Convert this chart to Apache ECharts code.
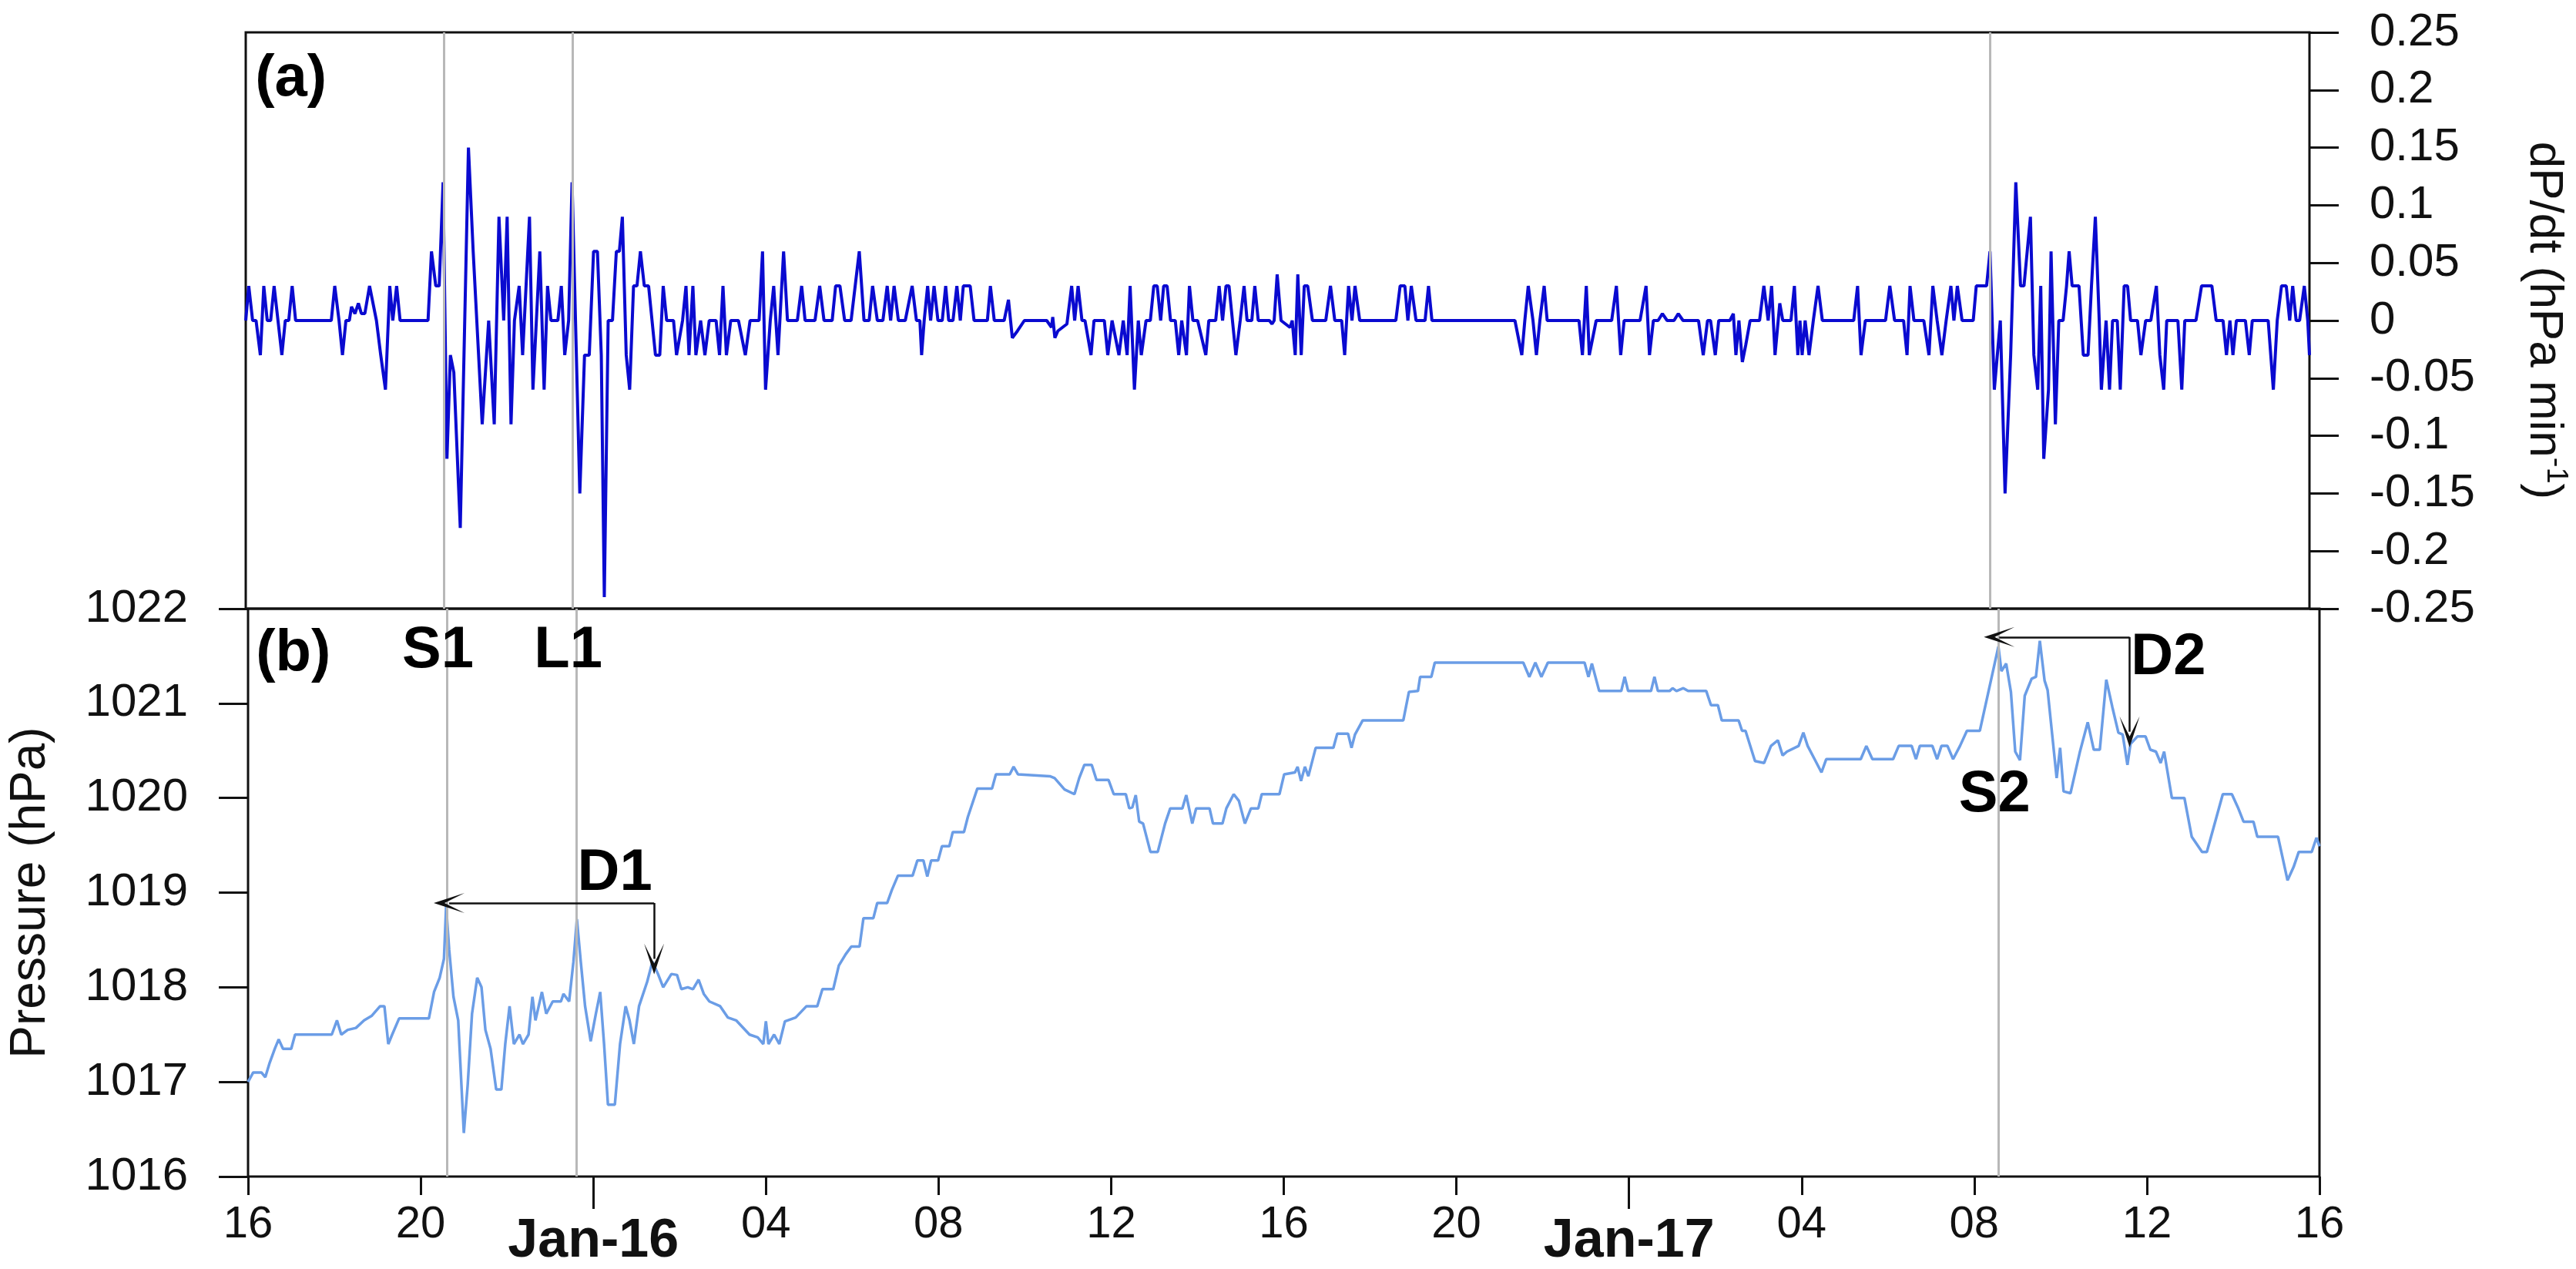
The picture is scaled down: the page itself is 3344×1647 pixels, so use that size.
<!DOCTYPE html>
<html><head><meta charset="utf-8">
<script src="https://cdn.jsdelivr.net/npm/echarts@6/dist/echarts.min.js"></script>
<style>html,body{margin:0;padding:0;background:#fff}#c{width:3344px;height:1647px}</style>
</head><body><div id="c"></div>
<script>
// hours since 15 Jan 16:00
const xTickLabels = ['16','20','Jan-16','04','08','12','16','20','Jan-17','04','08','12','16'];
const dpdtData = [[0,0],[0.07,0.03],[0.16,0],[0.24,0],[0.34,-0.03],[0.42,0.03],[0.5,0],[0.58,0],[0.66,0.03],[0.75,0],[0.84,-0.03],[0.92,0],[1.0,0],[1.08,0.03],[1.16,0],[1.99,0],[2.07,0.03],[2.17,0],[2.25,-0.03],[2.33,0],[2.41,0],[2.46,0.012],[2.54,0.006],[2.62,0.015],[2.69,0.006],[2.77,0.006],[2.88,0.03],[3.04,0],[3.14,-0.03],[3.25,-0.06],[3.35,0.03],[3.42,0],[3.51,0.03],[3.59,0],[4.24,0],[4.32,0.06],[4.42,0.03],[4.5,0.03],[4.59,0.12],[4.68,-0.12],[4.76,-0.03],[4.84,-0.045],[4.99,-0.18],[5.18,0.15],[5.29,0.06],[5.5,-0.09],[5.65,0],[5.78,-0.09],[5.89,0.09],[6.0,0],[6.08,0.09],[6.17,-0.09],[6.25,0],[6.36,0.03],[6.44,-0.03],[6.6,0.09],[6.68,-0.06],[6.84,0.06],[6.94,-0.06],[7.02,0.03],[7.1,0],[7.26,0],[7.34,0.03],[7.42,-0.03],[7.51,0],[7.59,0.12],[7.77,-0.15],[7.88,-0.03],[7.99,-0.03],[8.09,0.06],[8.18,0.06],[8.27,-0.03],[8.34,-0.24],[8.43,0],[8.53,0],[8.62,0.06],[8.69,0.06],[8.76,0.09],[8.85,-0.03],[8.93,-0.06],[9.02,0.03],[9.1,0.03],[9.18,0.06],[9.27,0.03],[9.37,0.03],[9.53,-0.03],[9.63,-0.03],[9.71,0.03],[9.79,0],[9.95,0],[10.02,-0.03],[10.16,0],[10.24,0.03],[10.31,-0.03],[10.4,0.03],[10.47,-0.03],[10.58,0],[10.68,-0.03],[10.78,0],[10.94,0],[11.02,-0.03],[11.1,0.03],[11.18,-0.03],[11.28,0],[11.46,0],[11.62,-0.03],[11.73,0],[11.94,0],[12.02,0.06],[12.09,-0.06],[12.2,0],[12.28,0.03],[12.38,-0.03],[12.51,0.06],[12.6,0],[12.83,0],[12.93,0.03],[13.01,0],[13.24,0],[13.35,0.03],[13.45,0],[13.64,0],[13.72,0.03],[13.82,0.03],[13.93,0],[14.08,0],[14.27,0.06],[14.38,0],[14.5,0],[14.58,0.03],[14.69,0],[14.82,0],[14.92,0.03],[15.0,0],[15.08,0.03],[15.18,0],[15.34,0],[15.5,0.03],[15.6,0],[15.68,0],[15.72,-0.03],[15.78,0],[15.86,0.03],
[15.93,0],[16.01,0.03],[16.1,0],[16.2,0],[16.28,0.03],[16.35,0],[16.45,0],[16.54,0.03],[16.62,0],[16.69,0.03],[16.78,0.03],[16.85,0.03],[16.94,0],[17.25,0],[17.32,0.03],[17.41,0],[17.64,0],[17.74,0.018],[17.83,-0.015],[17.95,-0.009],[18.11,0],[18.63,0],[18.74,-0.006],[18.77,0.003],[18.82,-0.015],[18.89,-0.009],[19.1,-0.003],[19.21,0.03],[19.28,0],[19.36,0.03],[19.45,0],[19.52,0],[19.66,-0.03],[19.73,0],[19.97,0],[20.05,-0.03],[20.15,0],[20.31,-0.03],[20.41,0],[20.5,-0.03],[20.57,0.03],[20.67,-0.06],[20.76,0],[20.83,-0.03],[20.94,0],[21.04,0],[21.12,0.03],[21.2,0.03],[21.28,0],[21.35,0.03],[21.43,0.03],[21.51,0],[21.62,0],[21.7,-0.03],[21.77,0],[21.88,-0.03],[21.95,0.03],[22.03,0],[22.14,0],[22.33,-0.03],[22.4,0],[22.56,0],[22.64,0.03],[22.72,0],[22.8,0.03],[22.87,0.03],[23.03,-0.03],[23.13,0],[23.22,0.03],[23.29,0],[23.4,0],[23.47,0.03],[23.55,0],[23.81,0],[23.87,-0.003],[23.92,0],[23.99,0.04],[24.08,0],[24.29,-0.006],[24.34,0],[24.41,-0.03],[24.47,0.04],[24.55,-0.03],[24.62,0.03],[24.7,0.03],[24.81,0],[25.12,0],[25.23,0.03],[25.33,0],[25.49,0],[25.56,-0.03],[25.65,0.03],[25.73,0],[25.8,0.03],[25.91,0],[26.75,0],[26.85,0.03],[26.96,0.03],[27.03,0],[27.11,0.03],[27.22,0],[27.43,0],[27.51,0.03],[27.59,0],[29.52,0],[29.68,-0.03],[29.75,0],[29.83,0.03],[29.94,0],[30.02,-0.03],[30.1,0],[30.2,0.03],[30.27,0],[31.01,0],[31.09,-0.03],[31.18,0.03],[31.25,-0.03],[31.41,0],[31.77,0],[31.88,0.03],[31.98,-0.03],
[32.06,0],[32.43,0],[32.57,0.03],[32.65,-0.03],[32.74,0],[32.85,0],[32.95,0.006],[33.06,0],[33.22,0],[33.32,0.006],[33.43,0],[33.79,0],[33.9,-0.03],[34.0,0],[34.07,0],[34.18,-0.03],[34.26,0],[34.52,0],[34.6,0.006],[34.66,-0.03],[34.73,0],[34.81,-0.036],[34.89,-0.021],[34.99,0],[35.21,0],[35.31,0.03],[35.41,0],[35.49,0.03],[35.57,-0.03],[35.68,0.015],[35.75,0],[35.94,0],[36.02,0.03],[36.1,-0.03],[36.15,0],[36.2,-0.03],[36.27,0],[36.36,-0.03],[36.46,0],[36.57,0.03],[36.67,0],[37.4,0],[37.49,0.03],[37.57,-0.03],[37.67,0],[38.14,0],[38.24,0.03],[38.35,0],[38.56,0],[38.64,-0.03],[38.71,0.03],[38.8,0],[39.03,0],[39.15,-0.03],[39.24,0.03],[39.34,0],[39.45,-0.03],[39.55,0],[39.66,0.03],[39.73,0],[39.81,0.03],[39.92,0],[40.18,0],[40.25,0.03],[40.49,0.03],[40.57,0.06],[40.67,-0.06],[40.81,0],[40.92,-0.15],[41.05,-0.03],[41.17,0.12],[41.28,0.03],[41.36,0.03],[41.51,0.09],[41.59,-0.03],[41.68,-0.06],[41.75,0.03],[41.82,-0.12],[41.93,-0.06],[41.99,0.06],[42.09,-0.09],[42.17,0],[42.27,0],[42.35,0.03],[42.41,0.06],[42.48,0.03],[42.64,0.03],[42.74,-0.03],[42.85,-0.03],[42.93,0.03],[43.02,0.09],[43.11,0],[43.16,-0.06],[43.27,0],[43.35,-0.06],[43.42,0],[43.53,0],[43.6,-0.06],[43.69,0.03],[43.77,0.03],[43.84,0],[44.0,0],[44.08,-0.03],[44.19,0],[44.31,0],[44.44,0.03],[44.52,-0.03],[44.61,-0.06],[44.68,0],[44.94,0],[45.03,-0.06],[45.1,0],[45.36,0],[45.49,0.03],[45.73,0.03],[45.83,0],[45.99,0],[46.07,-0.03],[46.15,0],[46.22,-0.03],[46.3,0],[46.51,0],[46.6,-0.03],[46.67,0],[47.04,0],[47.16,-0.06],[47.25,0],[47.35,0.03],[47.46,0.03],[47.54,0],[47.61,0.03],[47.69,0],[47.77,0],[47.88,0.03],[47.96,0],[48.0,-0.03]];
const pressureData = [[0,1017.0],[0.12,1017.1],[0.31,1017.1],[0.4,1017.05],[0.5,1017.2],[0.62,1017.35],[0.71,1017.45],[0.81,1017.35],[1.0,1017.35],[1.09,1017.5],[1.94,1017.5],[2.06,1017.65],[2.16,1017.5],[2.31,1017.55],[2.5,1017.57],[2.69,1017.65],[2.87,1017.7],[3.06,1017.8],[3.16,1017.8],[3.25,1017.4],[3.34,1017.5],[3.5,1017.67],[4.19,1017.67],[4.31,1017.95],[4.44,1018.1],[4.54,1018.3],[4.59,1018.86],[4.66,1018.4],[4.76,1017.9],[4.87,1017.65],[5.0,1016.46],[5.09,1016.97],[5.19,1017.72],[5.31,1018.1],[5.41,1018.0],[5.5,1017.55],[5.62,1017.35],[5.75,1016.92],[5.87,1016.92],[5.96,1017.4],[6.06,1017.8],[6.16,1017.4],[6.29,1017.5],[6.37,1017.4],[6.5,1017.5],[6.59,1017.9],[6.66,1017.65],[6.81,1017.95],[6.91,1017.72],[7.06,1017.85],[7.25,1017.85],[7.31,1017.93],[7.44,1017.85],[7.54,1018.27],[7.62,1018.72],[7.71,1018.27],[7.81,1017.8],[7.94,1017.43],[8.06,1017.72],[8.16,1017.95],[8.25,1017.4],[8.34,1016.76],[8.5,1016.76],[8.62,1017.4],[8.75,1017.8],[8.84,1017.65],[8.94,1017.4],[9.06,1017.8],[9.25,1018.06],[9.37,1018.27],[9.5,1018.14],[9.62,1018.0],[9.81,1018.14],[9.94,1018.13],[10.04,1017.98],[10.19,1018.0],[10.31,1017.98],[10.44,1018.08],[10.56,1017.93],[10.69,1017.85],[10.94,1017.8],[11.12,1017.68],[11.31,1017.65],[11.62,1017.5],[11.81,1017.47],[11.94,1017.4],[12.0,1017.64],[12.06,1017.4],[12.19,1017.5],[12.31,1017.4],[12.44,1017.64],[12.69,1017.68],[12.94,1017.8],[13.19,1017.8],[13.31,1017.98],[13.56,1017.98],[13.69,1018.23],[13.85,1018.35],
[13.98,1018.43],[14.17,1018.43],[14.26,1018.73],[14.49,1018.73],[14.58,1018.89],[14.81,1018.89],[14.92,1019.03],[15.06,1019.18],[15.4,1019.18],[15.51,1019.34],[15.65,1019.34],[15.74,1019.17],[15.83,1019.34],[15.99,1019.34],[16.08,1019.49],[16.25,1019.49],[16.33,1019.64],[16.59,1019.64],[16.68,1019.8],[16.9,1020.1],[17.24,1020.1],[17.33,1020.25],[17.65,1020.25],[17.74,1020.33],[17.84,1020.25],[18.58,1020.23],[18.69,1020.21],[18.92,1020.09],[19.15,1020.04],[19.26,1020.21],[19.38,1020.35],[19.55,1020.35],[19.66,1020.19],[19.94,1020.19],[20.06,1020.04],[20.34,1020.04],[20.42,1019.89],[20.49,1019.9],[20.57,1020.03],[20.65,1019.75],[20.74,1019.73],[20.91,1019.43],[21.08,1019.43],[21.25,1019.73],[21.37,1019.89],[21.65,1019.89],[21.74,1020.03],[21.88,1019.73],[21.97,1019.89],[22.28,1019.89],[22.36,1019.73],[22.58,1019.73],[22.67,1019.89],[22.84,1020.04],[22.96,1019.97],[23.1,1019.73],[23.24,1019.89],[23.41,1019.89],[23.49,1020.04],[23.9,1020.04],[24.01,1020.25],[24.26,1020.27],[24.32,1020.33],[24.4,1020.18],[24.49,1020.33],[24.57,1020.23],[24.74,1020.53],[25.15,1020.53],[25.24,1020.68],[25.49,1020.68],[25.57,1020.53],[25.65,1020.67],[25.83,1020.82],[26.77,1020.82],[26.9,1021.12],[27.11,1021.13],[27.16,1021.28],[27.42,1021.28],[27.5,1021.43],[29.55,1021.43],[29.69,1021.28],[29.83,1021.43],[29.97,1021.28],[30.12,1021.43],[30.97,1021.43],[31.06,1021.28],[31.14,1021.42],[31.31,1021.13],
[31.82,1021.13],[31.9,1021.28],[31.98,1021.13],[32.51,1021.13],[32.59,1021.28],[32.67,1021.13],[32.94,1021.13],[33.01,1021.16],[33.1,1021.13],[33.26,1021.16],[33.37,1021.13],[33.79,1021.13],[33.9,1020.98],[34.06,1020.98],[34.15,1020.82],[34.54,1020.82],[34.62,1020.71],[34.7,1020.71],[34.92,1020.39],[35.13,1020.37],[35.29,1020.55],[35.45,1020.61],[35.56,1020.45],[35.66,1020.49],[35.93,1020.55],[36.04,1020.69],[36.14,1020.55],[36.3,1020.41],[36.46,1020.27],[36.57,1020.41],[37.37,1020.41],[37.5,1020.55],[37.64,1020.41],[38.12,1020.41],[38.25,1020.55],[38.55,1020.55],[38.65,1020.41],[38.74,1020.55],[39.03,1020.55],[39.14,1020.41],[39.24,1020.55],[39.38,1020.55],[39.51,1020.41],[39.67,1020.55],[39.83,1020.71],[40.13,1020.71],[40.56,1021.6],[40.63,1021.34],[40.74,1021.42],[40.85,1021.12],[40.95,1020.49],[41.06,1020.4],[41.17,1021.08],[41.33,1021.26],[41.43,1021.28],[41.52,1021.66],[41.63,1021.24],[41.7,1021.14],[41.91,1020.21],[41.99,1020.53],[42.07,1020.07],[42.23,1020.05],[42.45,1020.49],[42.63,1020.8],[42.77,1020.51],[42.91,1020.51],[43.06,1021.25],[43.2,1020.96],[43.34,1020.69],[43.44,1020.67],[43.55,1020.35],[43.62,1020.57],[43.78,1020.65],[43.97,1020.65],[44.08,1020.51],[44.21,1020.49],[44.32,1020.37],[44.4,1020.49],[44.58,1020.0],[44.87,1020.0],[45.04,1019.59],[45.28,1019.43],[45.39,1019.43],[45.76,1020.04],[45.97,1020.04],[46.11,1019.9],[46.24,1019.75],[46.47,1019.75],[46.56,1019.59],[47.04,1019.59],[47.26,1019.13],[47.4,1019.27],[47.52,1019.43],[47.82,1019.43],[47.93,1019.58],[48.0,1019.49]];
const eventLines = [4.61, 7.6, 40.56];
const dayTicks = [8, 32];
const panelLabelsA = [[1.05, 0.209, '(a)']];
const panelLabelsB = [[1.05, 1021.52, '(b)'], [4.4, 1021.55, 'S1'], [7.42, 1021.55, 'L1'], [8.5, 1019.2, 'D1'], [40.47, 1020.03, 'S2'], [44.5, 1021.48, 'D2']];
const arrowD1 = {x0: 9.41, x1: 4.66, y: 1018.89, y1: 1018.3};
const arrowD2 = {x0: 43.6, x1: 40.58, y: 1021.7, y1: 1020.7};

const F = 'Liberation Sans, Arial, sans-serif';
const chev = 'path://M5,0L10,10L5,3.5L0,10Z';
const chart = echarts.init(document.getElementById('c'), null, {renderer: 'canvas'});
const vline = {silent: true, symbol: 'none', label: {show: false}, lineStyle: {color: '#b8b8b8', width: 3, type: 'solid'}, data: eventLines.map(v => ({xAxis: v}))};
const arrowLines = (a) => [
  [{coord: [a.x0, a.y], symbol: 'none'}, {coord: [a.x1, a.y], symbol: chev, symbolSize: [26, 40]}],
  [{coord: [a.x0, a.y], symbol: 'none'}, {coord: [a.x0, a.y1], symbol: chev, symbolSize: [26, 40]}]
];
const lblStyle = {show: true, position: 'inside', formatter: p => p.value[2], fontFamily: F, fontWeight: 'bold', fontSize: 76, color: '#000'};
const tickStyle = {color: '#111', width: 3};
chart.setOption({
  animation: false,
  backgroundColor: '#fff',
  grid: [
    {left: 319, right: 333, top: 42, height: 748, show: true, borderColor: '#111', borderWidth: 3},
    {left: 319, right: 333, top: 790, height: 749, show: true, borderColor: '#111', borderWidth: 3}
  ],
  xAxis: [
    {gridIndex: 0, type: 'value', min: 0, max: 48, interval: 4, axisLine: {show: false, onZero: false}, axisTick: {show: false}, axisLabel: {show: false}, splitLine: {show: false}},
    {gridIndex: 1, type: 'value', position: 'bottom', min: 0, max: 48, interval: 4, axisLine: {show: false, onZero: false}, splitLine: {show: false},
      axisTick: {show: true, length: 24, lineStyle: tickStyle},
      axisLabel: {margin: 34, fontFamily: F, fontSize: 58, color: '#111',
        formatter: v => { const s = xTickLabels[Math.round(v / 4)]; return s.indexOf('Jan') === 0 ? '{d|' + s + '}' : s; },
        rich: {d: {fontFamily: F, fontSize: 70, fontWeight: 'bold', color: '#111', padding: [16, 0, 0, 0]}}}},
    {gridIndex: 1, type: 'value', position: 'bottom', min: 0, max: 48, axisLine: {show: false, onZero: false}, splitLine: {show: false}, axisLabel: {show: false},
      axisTick: {show: true, length: 42, customValues: dayTicks, lineStyle: tickStyle}}
  ],
  yAxis: [
    {gridIndex: 0, type: 'value', position: 'right', min: -0.25, max: 0.25, interval: 0.05, axisLine: {show: false, onZero: false}, splitLine: {show: false},
      axisTick: {show: true, length: 38, lineStyle: tickStyle},
      axisLabel: {margin: 78, fontFamily: F, fontSize: 60, color: '#111', formatter: v => String(Math.round(v * 100) / 100)},
      name: '{a|dP/dt (hPa min}{s|-1}{a|)}', nameLocation: 'middle', nameRotate: -90, nameGap: 270,
      nameTextStyle: {rich: {a: {fontFamily: F, fontSize: 62, color: '#111'}, s: {fontFamily: F, fontSize: 38, color: '#111', verticalAlign: 'top', padding: [0, 0, 30, 0]}}}},
    {gridIndex: 1, type: 'value', position: 'left', min: 1016, max: 1022, interval: 1, axisLine: {show: false, onZero: false}, splitLine: {show: false},
      axisTick: {show: true, length: 38, lineStyle: tickStyle},
      axisLabel: {margin: 78, fontFamily: F, fontSize: 60, color: '#111', formatter: v => String(v)},
      name: 'Pressure (hPa)', nameLocation: 'middle', nameGap: 250, nameTextStyle: {fontFamily: F, fontSize: 64, color: '#111'}}
  ],
  series: [
    {type: 'line', xAxisIndex: 0, yAxisIndex: 0, data: dpdtData, showSymbol: false, lineStyle: {color: '#0a0ad0', width: 4}, z: 3, markLine: vline},
    {type: 'line', xAxisIndex: 1, yAxisIndex: 1, data: pressureData, showSymbol: false, lineStyle: {color: '#6b9de6', width: 3.5}, z: 3,
      markLine: {silent: true, symbol: 'none', label: {show: false}, lineStyle: {color: '#b8b8b8', width: 3, type: 'solid'},
        data: eventLines.map(v => ({xAxis: v})).concat(arrowLines(arrowD1), arrowLines(arrowD2)).map(d => Array.isArray(d) ? d.map(e => Object.assign({lineStyle: {color: '#111', width: 2.5}}, e)) : d)}},
    {type: 'scatter', xAxisIndex: 0, yAxisIndex: 0, data: panelLabelsA, symbolSize: 0, itemStyle: {opacity: 1}, label: lblStyle, silent: true, z: 5},
    {type: 'scatter', xAxisIndex: 1, yAxisIndex: 1, data: panelLabelsB, symbolSize: 0, itemStyle: {opacity: 1}, label: lblStyle, silent: true, z: 5}
  ]
});
</script></body></html>
